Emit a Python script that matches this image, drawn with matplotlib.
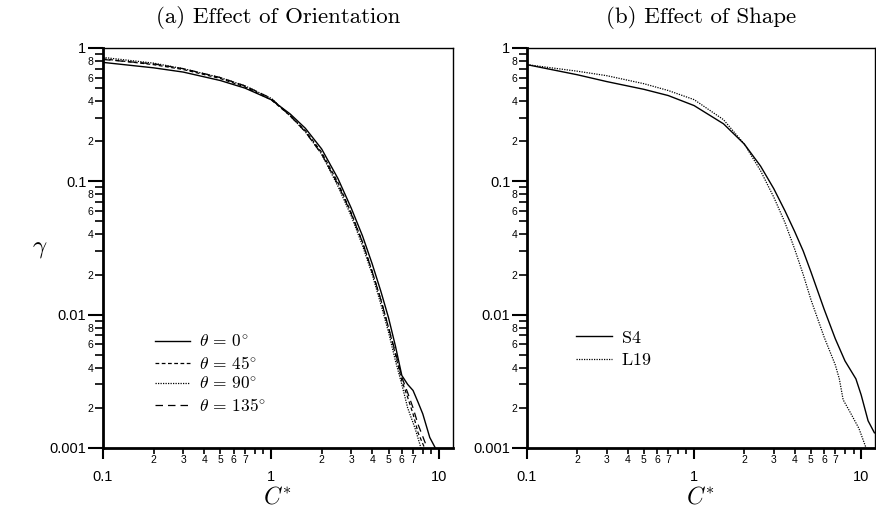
import matplotlib
matplotlib.use("Agg")
from matplotlib import pyplot as plt
from matplotlib.ticker import FixedLocator, FixedFormatter

plt.rcParams['mathtext.fontset'] = 'cm'
plt.rcParams['font.family'] = ['Liberation Sans', 'DejaVu Sans']

# (a) orientation curves: C* values and gamma values
c_0 = [0.1, 0.2, 0.3, 0.5, 0.7, 1.0, 1.3, 1.6, 2.0, 2.5, 3.0, 3.5, 4.0, 4.5, 5.0, 5.5, 6.0, 6.5, 7.0, 7.5, 8.0, 8.8, 9.5]
g_0 = [0.78, 0.71, 0.66, 0.57, 0.50, 0.41, 0.32, 0.25, 0.175, 0.105, 0.063, 0.039, 0.024, 0.015, 0.0095, 0.0058, 0.0035, 0.0030, 0.0027, 0.0022, 0.0018, 0.0012, 0.001]
c_45 = [0.1, 0.2, 0.3, 0.5, 0.7, 1.0, 1.3, 1.6, 2.0, 2.5, 3.0, 3.5, 4.0, 4.5, 5.0, 5.5, 6.0, 6.5, 7.0, 7.5, 8.2]
g_45 = [0.83, 0.75, 0.69, 0.59, 0.51, 0.41, 0.31, 0.24, 0.165, 0.098, 0.058, 0.035, 0.021, 0.013, 0.0080, 0.0050, 0.0032, 0.0024, 0.0018, 0.0013, 0.001]
c_90 = [0.1, 0.2, 0.3, 0.5, 0.7, 1.0, 1.3, 1.6, 2.0, 2.5, 3.0, 3.5, 4.0, 4.5, 5.0, 5.5, 6.0, 6.5, 7.2, 7.8]
g_90 = [0.85, 0.77, 0.70, 0.60, 0.52, 0.42, 0.31, 0.235, 0.16, 0.092, 0.055, 0.033, 0.020, 0.012, 0.0074, 0.0045, 0.0030, 0.0020, 0.0014, 0.001]
c_135 = [0.1, 0.2, 0.3, 0.5, 0.7, 1.0, 1.3, 1.6, 2.0, 2.5, 3.0, 3.5, 4.0, 4.5, 5.0, 5.5, 6.0, 6.5, 7.0, 7.5, 8.5]
g_135 = [0.82, 0.76, 0.70, 0.60, 0.52, 0.42, 0.31, 0.235, 0.16, 0.095, 0.057, 0.035, 0.021, 0.013, 0.0080, 0.0052, 0.0034, 0.0026, 0.0020, 0.0015, 0.001]

# (b) shape curves
c_s4 = [0.1, 0.2, 0.3, 0.5, 0.7, 1.0, 1.5, 2.0, 2.5, 3.0, 3.5, 4.0, 4.5, 5.0, 6.0, 7.0, 8.0, 9.3, 10.0, 11.0, 12.0]
g_s4 = [0.75, 0.63, 0.56, 0.49, 0.44, 0.37, 0.27, 0.19, 0.13, 0.088, 0.060, 0.042, 0.030, 0.021, 0.011, 0.0066, 0.0045, 0.0033, 0.0025, 0.0016, 0.0013]
c_l19 = [0.1, 0.2, 0.3, 0.5, 0.7, 1.0, 1.5, 2.0, 2.5, 3.0, 3.5, 4.0, 4.5, 5.0, 6.0, 7.0, 7.4, 7.8, 8.5, 9.7, 10.7]
g_l19 = [0.75, 0.67, 0.62, 0.54, 0.48, 0.41, 0.29, 0.19, 0.12, 0.076, 0.049, 0.031, 0.020, 0.013, 0.0068, 0.0042, 0.0033, 0.0023, 0.0019, 0.0014, 0.001]

fig = plt.figure(figsize=(8.76, 5.2), dpi=100)
ax1 = fig.add_axes([103 / 876, 72 / 520, 350 / 876, 400 / 520])
ax2 = fig.add_axes([527 / 876, 72 / 520, 348 / 876, 400 / 520])


def style_axis(ax):
    ax.set_xscale('log')
    ax.set_yscale('log')
    ax.set_xlim(0.1, 12.1)
    ax.set_ylim(0.001, 1)
    for s in ax.spines.values():
        s.set_linewidth(1.0)
    ax.spines['bottom'].set_linewidth(2.0)
    ax.spines['left'].set_linewidth(2.0)
    # y ticks
    ax.yaxis.set_major_locator(FixedLocator([0.001, 0.01, 0.1, 1]))
    ax.yaxis.set_major_formatter(FixedFormatter(['0.001', '0.01', '0.1', '1']))
    ymin = [m * d for d in (0.001, 0.01, 0.1) for m in range(2, 10)]
    ylab = [str(m) if m in (2, 4, 6, 8) else '' for d in (0.001, 0.01, 0.1) for m in range(2, 10)]
    ax.yaxis.set_minor_locator(FixedLocator(ymin))
    ax.yaxis.set_minor_formatter(FixedFormatter(ylab))
    # x ticks
    ax.xaxis.set_major_locator(FixedLocator([0.1, 1, 10]))
    ax.xaxis.set_major_formatter(FixedFormatter(['0.1', '1', '10']))
    xmin = [m * d for d in (0.1, 1) for m in range(2, 10)]
    xlab = [str(m) if m <= 7 else '' for d in (0.1, 1) for m in range(2, 10)]
    ax.xaxis.set_minor_locator(FixedLocator(xmin))
    ax.xaxis.set_minor_formatter(FixedFormatter(xlab))
    ax.tick_params(axis='y', which='major', direction='out', length=11, width=1.5, labelsize=10.5, pad=1)
    ax.tick_params(axis='y', which='minor', direction='out', length=6, width=1.2, labelsize=7.5, pad=1)
    ax.tick_params(axis='x', which='major', direction='out', length=8, width=1.5, labelsize=10.5, pad=8)
    ax.tick_params(axis='x', which='minor', direction='out', length=4, width=1.2, labelsize=7.5, pad=1)
    ax.set_xlabel(r'$C^{*}$', fontsize=17, labelpad=2)


style_axis(ax1)
style_axis(ax2)

ax1.plot(c_0, g_0, color='black', lw=1.0, ls='-', label=r'$\theta\,=\,0^{\circ}$')
ax1.plot(c_45, g_45, color='black', lw=0.9, ls=(0, (3, 2)), label=r'$\theta\,=\,45^{\circ}$')
ax1.plot(c_90, g_90, color='black', lw=0.9, ls=(0, (1, 1)), label=r'$\theta\,=\,90^{\circ}$')
ax1.plot(c_135, g_135, color='black', lw=0.9, ls=(0, (6, 4)), label=r'$\theta\,=\,135^{\circ}$')
ax1.legend(loc='lower left', bbox_to_anchor=(0.12, 0.06), frameon=False, fontsize=12.5,
           handlelength=2.0, handletextpad=0.5, labelspacing=0.25, borderaxespad=0.2)
ax1.set_title('(a) Effect of Orientation', fontfamily='cmr10', fontsize=16.5, pad=18)

ax2.plot(c_s4, g_s4, color='black', lw=1.0, ls='-', label=r'$\mathrm{S4}$')
ax2.plot(c_l19, g_l19, color='black', lw=0.9, ls=(0, (1, 1)), label=r'$\mathrm{L19}$')
ax2.legend(loc='lower left', bbox_to_anchor=(0.11, 0.17), frameon=False, fontsize=13,
           handlelength=2.0, handletextpad=0.5, labelspacing=0.3, borderaxespad=0.2)
ax2.set_title('(b) Effect of Shape', fontfamily='cmr10', fontsize=16.5, pad=18)

fig.text(40 / 876, 1 - 248 / 520, r'$\gamma$', fontsize=18, ha='center', va='center')

fig.savefig('out.png', dpi=100)
